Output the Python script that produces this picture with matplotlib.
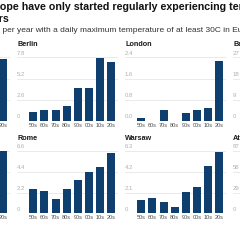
import matplotlib
matplotlib.use("Agg")
import matplotlib.pyplot as plt
import matplotlib.transforms as mtransforms

plt.rcParams["font.family"] = ["Liberation Sans", "DejaVu Sans"]

decades = ["50s", "60s", "70s", "80s", "90s", "00s", "10s", "20s"]

berlin = [1.07, 1.3, 1.3, 1.8, 4.0, 4.0, 7.7, 7.2]
london = [0.09, 0.0, 0.4, 0.0, 0.3, 0.4, 0.5, 2.27]
rome = [2.6, 2.4, 1.55, 2.6, 3.5, 4.4, 4.9, 6.4]
warsaw = [1.35, 1.5, 1.15, 0.68, 2.2, 2.7, 4.8, 6.2]

# panels cut off at the edges of the crop: only the last decade / the ticks show
hidden_top = [None] * 7 + [0.97]
hidden_bottom = [None] * 7 + [0.99]

berlin_ticks = [0, 2.6, 5.2, 7.8]
london_ticks = [0.0, 0.8, 1.6, 2.4]
rome_ticks = [0, 2.2, 4.4, 6.6]
warsaw_ticks = [0, 2.1, 4.2, 6.3]
barcelona_ticks = [0, 9, 18, 27]
athens_ticks = [0, 29, 58, 87]
hidden_ticks = [0, 1 / 3, 2 / 3, 1]

tick_text = {
    "Berlin": ["0", "2.6", "5.2", "7.8"],
    "London": ["0.0", "0.8", "1.6", "2.4"],
    "Rome": ["0", "2.2", "4.4", "6.6"],
    "Warsaw": ["0", "2.1", "4.2", "6.3"],
    "Barcelona": ["0", "9", "18", "27"],
    "Athens": ["0", "29", "58", "87"],
    "": ["0", "", "", ""],
}

BAR = "#0f3f6f"
W = H = 240.0

fig = plt.figure(figsize=(2.4, 2.4), dpi=100)


def panel(left, top, bottom, name, values, ticks):
    ax = fig.add_axes([left / W, 1 - bottom / H, 101 / W, (bottom - top) / H])
    ax.set_xlim(-1.47, 7.63)
    ax.set_ylim(0, ticks[-1])
    for t in ticks[1:]:
        ax.axhline(t, color="#e6e6e6", lw=0.6, zorder=0)
    ax.axhline(0, color="#7a7a7a", lw=0.7, zorder=3)
    if values is not None:
        xs = [i for i, v in enumerate(values) if v is not None]
        vs = [v for v in values if v is not None]
        ax.bar(xs, vs, width=0.72, color=BAR, zorder=2)
    ax.set_xticks(range(len(decades)))
    ax.set_xticklabels(decades, fontsize=4.0, color="#4d4d4d")
    ax.tick_params(axis="x", length=0, pad=1.5)
    ax.set_yticks([])
    for s in ax.spines.values():
        s.set_visible(False)
    trans = mtransforms.offset_copy(
        ax.get_yaxis_transform(), fig=fig, x=0, y=1.0, units="points")
    for t, lab in zip(ticks, tick_text[name]):
        ax.text(0, t, lab, transform=trans, fontsize=4.3, color="#b0b0b0",
                ha="left", va="bottom")
    fig.text(left / W, 1 - (top - 12.5) / H, name, fontsize=5.2,
             fontweight="bold", color="#1a1a1a", ha="left", va="center")
    return ax


cols = [-91, 17, 125, 233]
rows = [(57.5, 120.7), (150.8, 213.4)]

panel(cols[0], *rows[0], "", hidden_top, hidden_ticks)
panel(cols[1], *rows[0], "Berlin", berlin, berlin_ticks)
panel(cols[2], *rows[0], "London", london, london_ticks)
panel(cols[3], *rows[0], "Barcelona", None, barcelona_ticks)
panel(cols[0], *rows[1], "", hidden_bottom, hidden_ticks)
panel(cols[1], *rows[1], "Rome", rome, rome_ticks)
panel(cols[2], *rows[1], "Warsaw", warsaw, warsaw_ticks)
panel(cols[3], *rows[1], "Athens", None, athens_ticks)

fig.text(-17.9 / W, 1 - 7 / H,
         "Europe have only started regularly experiencing temperatures",
         fontsize=7.7, fontweight="bold", color="#111111", ha="left",
         va="center")
fig.text(-17.6 / W, 1 - 19.5 / H, "years", fontsize=7.7, fontweight="bold",
         color="#111111", ha="left", va="center")
fig.text(-19.3 / W, 1 - 30 / H,
         "Days per year with a daily maximum temperature of at least 30C in European cities",
         fontsize=6.0, color="#333333", ha="left", va="center")

fig.savefig("out.png", dpi=100, facecolor="white")
